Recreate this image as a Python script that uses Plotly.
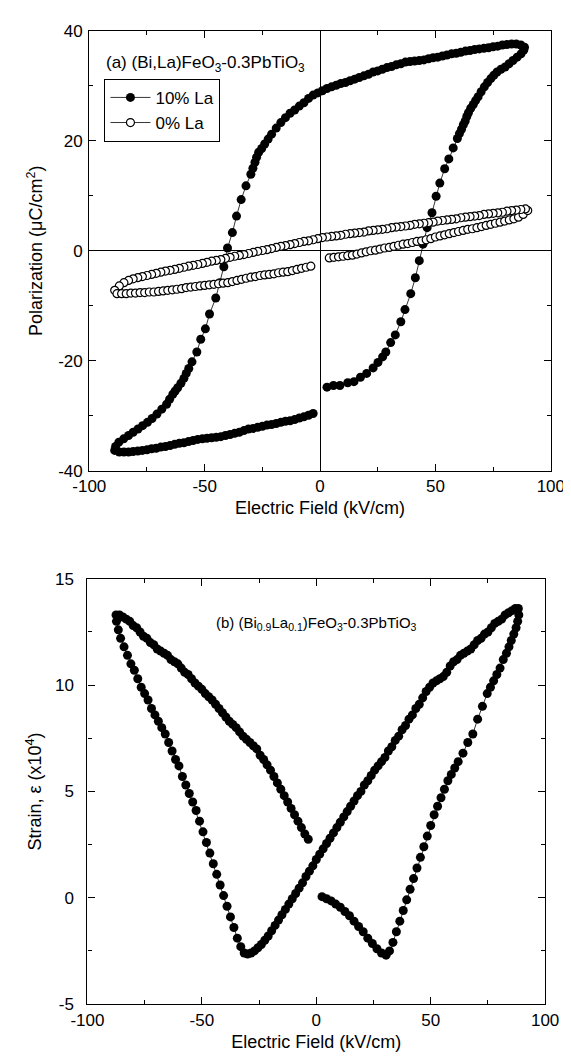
import plotly.graph_objects as go

# ---------------- tick labels ----------------
field_ticks = [-100, -50, 0, 50, 100]
field_labels = ["-100", "-50", "0", "50", "100"]
pol_ticks = [-40, -20, 0, 20, 40]
pol_labels = ["-40", "-20", "0", "20", "40"]
strain_ticks = [-5, 0, 5, 10, 15]
strain_labels = ["-5", "0", "5", "10", "15"]

# ---------------- (a) Polarization loops ----------------
# 10% La (filled circles), path order
la10_E = [3.0, 5.8, 8.6, 12.0, 14.7, 17.5, 20.2, 23.0, 25.1, 27.1, 28.5, 30.6, 32.6, 35.0, 36.8, 39.3,
          41.3, 43.0, 44.6, 46.4, 48.5, 50.3, 51.9, 54.0, 55.8, 57.7, 59.5, 60.4, 61.3, 62.1, 62.9, 63.6,
          64.3, 65.3, 66.4, 67.4, 68.5, 69.8, 71.2, 72.6, 74.0, 75.3, 76.7, 78.4, 80.2, 81.9, 83.6, 85.4,
          87.1, 88.3, 88.6,
          87, 85, 83, 81, 79, 77, 75, 73, 71, 69, 67, 65, 63, 61, 59, 57, 55, 53, 51, 49, 47, 45, 43, 41,
          39, 37, 35, 33, 31, 29, 27, 25, 23, 21, 19, 17, 15, 13, 11, 9, 7, 5, 3, 1, -1, -3, -5, -7, -9,
          -11, -13, -15, -17, -19, -21, -22.5, -24, -25.3, -26.6, -27.5, -28.2, -29.1, -30.0, -32.1, -34.2,
          -36.2, -38.0, -40.1, -41.7, -43.5, -45.2, -47.9, -49.7, -51.7, -53.4, -55.5, -56.9, -58.0, -59.0,
          -60.3, -61.7, -62.8, -63.8, -65.2, -66.5, -68.6, -70.7, -72.8, -74.8, -76.9, -78.9, -81.0, -83.0,
          -85.1, -87.2, -88.6, -89.0,
          -87, -85, -83, -81, -79, -77, -75, -73, -71, -69, -67, -65, -63, -61, -59, -57, -55, -53, -51,
          -49, -47, -45, -43, -41, -39, -37, -35, -33, -31, -29, -27, -25, -23, -21, -19, -17, -15, -13,
          -11, -9, -7, -5, -3]
la10_P = [-24.8, -24.5, -24.5, -24.0, -23.8, -23.0, -22.3, -21.3, -20.3, -19.3, -18.4, -16.7, -15.3, -12.9,
          -10.7, -7.8, -4.9, -1.8, 1.2, 4.2, 6.9, 9.9, 12.3, 14.9, 16.7, 18.7, 20.4, 21.3, 22.1, 22.9, 23.6,
          24.4, 25.1, 25.9, 26.6, 27.3, 28.0, 28.9, 29.8, 30.6, 31.3, 31.9, 32.5, 33.0, 33.4, 34.0, 34.6,
          35.2, 35.8, 36.5, 37.0,
          37.4, 37.6, 37.6, 37.5, 37.4, 37.2, 37.1, 36.9, 36.8, 36.7, 36.6, 36.4, 36.3, 36.1, 35.9, 35.8,
          35.6, 35.4, 35.2, 35.1, 34.9, 34.7, 34.6, 34.5, 34.4, 34.3, 34.0, 33.8, 33.5, 33.3, 33.0, 32.7,
          32.5, 32.1, 31.8, 31.5, 31.2, 30.9, 30.6, 30.4, 30.1, 29.8, 29.5, 29.1, 28.7, 28.3, 27.7, 26.9,
          26.3, 25.6, 25.0, 24.2, 23.3, 22.3, 21.2, 20.3, 19.4, 18.6, 17.9, 17.0, 16.1, 15.0, 13.9, 11.8,
          9.3, 6.3, 3.3, 0.5, -2.9, -5.8, -8.6, -11.5, -14.2, -16.1, -18.4, -20.2, -21.4, -22.3, -23.2,
          -24.1, -24.9, -25.5, -26.1, -27.0, -27.9, -28.8, -29.7, -30.5, -31.2, -31.8, -32.4, -33.0, -33.6,
          -34.2, -34.8, -35.6, -36.3,
          -36.6, -36.6, -36.6, -36.5, -36.4, -36.3, -36.2, -36.0, -35.9, -35.7, -35.6, -35.4, -35.2, -35.0,
          -34.9, -34.7, -34.5, -34.3, -34.2, -34.1, -34.0, -33.9, -33.8, -33.6, -33.4, -33.2, -33.0, -32.7,
          -32.4, -32.3, -32.1, -31.9, -31.7, -31.6, -31.4, -31.2, -31.0, -30.9, -30.7, -30.4, -30.2, -29.9,
          -29.6]

# 0% La (open circles), path order
la0_E = [4, 6, 8, 10, 12, 14, 16, 18, 20, 22, 24, 26, 28, 30, 32, 34, 36, 38, 40, 42, 44, 46, 48, 50, 52,
         54, 56, 58, 60, 62, 64, 66, 68, 70, 72, 74, 76, 78, 80, 82, 84, 86, 88, 90,
         89, 87, 85, 83, 81, 79, 77, 75, 73, 71, 69, 67, 65, 63, 61, 59, 57, 55, 53, 51, 49, 47, 45, 43,
         41, 39, 37, 35, 33, 31, 29, 27, 25, 23, 21, 19, 17, 15, 13, 11, 9, 7, 5, 3, 1, -1, -3, -5, -7,
         -9, -11, -13, -15, -17, -19, -21, -23, -25, -27, -29, -31, -33, -35, -37, -39, -41, -43, -45,
         -47, -49, -51, -53, -55, -57, -59, -61, -63, -65, -67, -69, -71, -73, -75, -77, -79, -81, -83,
         -85, -87, -89,
         -88, -86, -84, -82, -80, -78, -76, -74, -72, -70, -68, -66, -64, -62, -60, -58, -56, -54, -52,
         -50, -48, -46, -44, -42, -40, -38, -36, -34, -32, -30, -28, -26, -24, -22, -20, -18, -16, -14,
         -12, -10, -8, -6, -4]
la0_P = [-1.3, -1.2, -1.1, -1.0, -0.9, -0.8, -0.6, -0.4, -0.2, 0.0, 0.1, 0.3, 0.5, 0.6, 0.8, 1.0, 1.2, 1.3,
         1.5, 1.7, 1.8, 2.0, 2.2, 2.5, 2.7, 2.9, 3.1, 3.3, 3.5, 3.7, 3.9, 4.0, 4.2, 4.4, 4.6, 4.8, 5.0,
         5.2, 5.4, 5.6, 5.8, 6.1, 6.6, 7.3,
         7.6, 7.5, 7.4, 7.3, 7.2, 7.0, 6.9, 6.8, 6.7, 6.6, 6.4, 6.3, 6.2, 6.1, 6.0, 5.8, 5.7, 5.6, 5.5,
         5.4, 5.2, 5.1, 5.0, 4.9, 4.8, 4.6, 4.5, 4.4, 4.3, 4.2, 4.0, 3.9, 3.8, 3.7, 3.6, 3.4, 3.3, 3.2,
         3.1, 3.0, 2.8, 2.7, 2.6, 2.5, 2.4, 2.2, 2.0, 1.8, 1.7, 1.5, 1.3, 1.1, 0.95, 0.8, 0.6, 0.4, 0.2,
         0.05, -0.1, -0.3, -0.5, -0.7, -0.85, -1.0, -1.2, -1.4, -1.6, -1.75, -1.9, -2.1, -2.3, -2.5,
         -2.65, -2.8, -3.0, -3.2, -3.4, -3.55, -3.7, -3.9, -4.1, -4.3, -4.5, -4.7, -4.9, -5.1, -5.4,
         -5.8, -6.4, -7.2,
         -7.8, -7.8, -7.8, -7.7, -7.7, -7.6, -7.6, -7.5, -7.5, -7.4, -7.3, -7.2, -7.1, -7.0, -6.9, -6.7,
         -6.6, -6.5, -6.4, -6.3, -6.2, -6.1, -6.0, -5.9, -5.8, -5.6, -5.4, -5.2, -5.0, -4.8, -4.7, -4.5,
         -4.4, -4.3, -4.2, -4.0, -3.9, -3.8, -3.6, -3.4, -3.2, -3.0, -2.8]

# ---------------- (b) Strain butterfly loop ----------------
strain_E = [2.5, 4.5, 6.5, 8.5, 10.5, 12.5, 14.5, 16.5, 18.5, 20.5, 22.5, 24.5, 26.5, 28.5, 30.5,
            32.0, 33.5, 35.0, 36.5, 38.0, 39.5, 41.0, 42.5, 44.0, 45.5, 47.0, 48.5, 50.0, 51.5, 53.0, 54.5,
            56.0, 57.5, 59.0, 60.5, 62.0, 64.1, 66.2, 68.4, 70.5, 72.6, 74.7, 76.1, 77.5, 78.9, 80.3, 81.7,
            83.1, 84.2, 85.2, 86.3, 87.3, 88.0, 88.5, 88.3,
            87.0, 85.5, 84.0, 82.5, 81.0, 79.5, 78.0, 76.5, 75.0, 73.5, 72.0, 70.5, 69.0, 67.5, 66.0, 64.5,
            63.0, 61.5, 60.0, 58.5, 57.0, 55.5, 54.0, 52.5, 51.0, 49.5, 48.0, 46.5, 45.0, 43.5, 42.0, 40.5,
            39.0, 37.5, 36.0, 34.5, 33.0, 31.5, 30.0, 28.5, 27.0, 25.5, 24.0, 22.5, 21.0, 19.5, 18.0, 16.5,
            15.0, 13.5, 12.0, 10.5, 9.0, 7.5, 6.0, 4.5, 3.0, 1.5, 0.0, -1.5, -3.0, -4.5, -6.0, -7.5, -9.0,
            -10.5, -12.0, -13.5, -15.0, -16.5, -18.0, -19.5, -21.0, -22.5, -24.0, -25.5, -27.0, -28.5, -30.0,
            -31.5,
            -33.0, -34.5, -36.0, -37.5, -39.0, -40.5, -42.0, -43.5, -45.0, -46.5, -48.0, -49.5, -51.0, -52.5,
            -54.0, -55.5, -57.0, -58.5, -60.0, -61.5, -63.0, -64.5, -66.0, -67.5, -69.0, -70.5, -72.0, -73.5,
            -75.0, -76.5, -78.0, -79.5, -81.0, -82.5, -84.0, -85.5, -86.5, -87.3, -87.5,
            -86.0, -84.5, -83.0, -81.5, -80.0, -78.5, -77.0, -75.5, -74.0, -72.5, -71.0, -69.5, -68.0, -66.5,
            -65.0, -63.5, -62.0, -60.5, -59.0, -57.5, -56.0, -54.5, -53.0, -51.5, -50.0, -48.5, -47.0, -45.5,
            -44.0, -42.5, -41.0, -39.5, -38.0, -36.5, -35.0, -33.5, -32.0, -30.5, -29.0, -27.5, -26.0, -24.5,
            -23.0, -21.5, -20.0, -18.5, -17.0, -15.5, -14.0, -12.5, -11.0, -9.5, -8.0, -6.5, -5.0, -3.5]
strain_S = [0.05, -0.05, -0.15, -0.3, -0.45, -0.65, -0.85, -1.1, -1.35, -1.6, -1.9, -2.15, -2.4, -2.6, -2.7,
            -2.5, -2.1, -1.6, -1.1, -0.6, -0.1, 0.4, 0.9, 1.4, 1.9, 2.4, 2.9, 3.4, 3.9, 4.3, 4.7,
            5.1, 5.5, 5.8, 6.1, 6.4, 6.8, 7.3, 7.7, 8.4, 9.0, 9.6, 9.9, 10.2, 10.5, 10.8, 11.2,
            11.5, 11.8, 12.1, 12.4, 12.7, 13.0, 13.3, 13.6,
            13.6, 13.5, 13.4, 13.3, 13.1, 13.0, 12.9, 12.7, 12.5, 12.4, 12.2, 12.1, 11.9, 11.7, 11.6, 11.5,
            11.4, 11.2, 11.1, 10.9, 10.6, 10.4, 10.3, 10.2, 10.1, 9.9, 9.7, 9.4, 9.1, 8.9, 8.6, 8.4,
            8.1, 7.9, 7.6, 7.4, 7.1, 6.9, 6.6, 6.4, 6.2, 6.0, 5.75, 5.5, 5.3, 5.0, 4.8, 4.55,
            4.3, 4.05, 3.8, 3.55, 3.3, 3.05, 2.8, 2.55, 2.3, 2.05, 1.8, 1.5, 1.25, 1.0, 0.7, 0.45, 0.2,
            -0.05, -0.3, -0.55, -0.8, -1.05, -1.3, -1.55, -1.8, -2.0, -2.2, -2.35, -2.5, -2.6, -2.65,
            -2.6,
            -2.3, -1.9, -1.4, -0.9, -0.4, 0.1, 0.6, 1.1, 1.6, 2.1, 2.6, 3.1, 3.6, 4.1,
            4.5, 4.9, 5.3, 5.7, 6.2, 6.5, 6.9, 7.3, 7.7, 8.0, 8.3, 8.6, 8.9, 9.3,
            9.6, 9.9, 10.3, 10.7, 11.0, 11.4, 11.8, 12.2, 12.6, 13.0, 13.3,
            13.3, 13.2, 13.1, 13.0, 12.8, 12.7, 12.5, 12.3, 12.2, 12.0, 11.9, 11.7, 11.6, 11.5,
            11.4, 11.2, 11.1, 11.0, 10.8, 10.6, 10.5, 10.3, 10.1, 9.95, 9.8, 9.6, 9.45, 9.3,
            9.1, 8.9, 8.7, 8.5, 8.3, 8.15, 8.0, 7.8, 7.6, 7.45, 7.3, 7.15, 7.0, 6.7,
            6.5, 6.25, 6.0, 5.7, 5.4, 5.1, 4.8, 4.5, 4.2, 3.9, 3.6, 3.3, 3.0, 2.75]

FONT = "Arial, Liberation Sans, sans-serif"

fig = go.Figure()
fig.add_trace(go.Scatter(x=la10_E, y=la10_P, mode="lines+markers", name="10% La",
                         line=dict(color="black", width=0.8),
                         marker=dict(symbol="circle", size=9, color="black"),
                         xaxis="x", yaxis="y"))
fig.add_trace(go.Scatter(x=la0_E, y=la0_P, mode="lines+markers", name="0% La",
                         line=dict(color="black", width=0.8),
                         marker=dict(symbol="circle", size=8, color="white",
                                     line=dict(color="black", width=1.2)),
                         xaxis="x", yaxis="y"))
fig.add_trace(go.Scatter(x=strain_E, y=strain_S, mode="lines+markers", showlegend=False,
                         line=dict(color="black", width=0.8),
                         marker=dict(symbol="circle", size=9, color="black"),
                         xaxis="x2", yaxis="y2"))

W, H = 571, 1064
axis_common = dict(showgrid=False, showline=True, linecolor="black", linewidth=1.3,
                   mirror="ticks", ticks="inside", ticklen=7, tickwidth=1.2, tickcolor="black",
                   tickfont=dict(family=FONT, size=17, color="black"))

fig.update_layout(
    width=W, height=H, margin=dict(l=0, r=0, t=0, b=0),
    paper_bgcolor="white", plot_bgcolor="white",
    font=dict(family=FONT, size=17, color="black"),
    xaxis=dict(domain=[68 / W, 556 / W], anchor="y", range=[-100, 100],
               tickmode="array", tickvals=field_ticks, ticktext=field_labels,
               zeroline=True, zerolinecolor="black", zerolinewidth=1.3,
               minor=dict(dtick=25, ticks="inside", ticklen=4, tickcolor="black"),
               title=dict(text="Electric Field (kV/cm)", font=dict(family=FONT, size=18), standoff=6),
               **axis_common),
    yaxis=dict(domain=[1 - 462 / H, 1 - 14 / H], anchor="x", range=[-40, 40],
               tickmode="array", tickvals=pol_ticks, ticktext=pol_labels,
               zeroline=True, zerolinecolor="black", zerolinewidth=1.3,
               minor=dict(dtick=10, ticks="inside", ticklen=4, tickcolor="black"),
               ticklabelstandoff=2,
               title=dict(text="Polarization (μC/cm<sup>2</sup>)", font=dict(family=FONT, size=18), standoff=10),
               **axis_common),
    xaxis2=dict(domain=[66 / W, 550 / W], anchor="y2", range=[-100, 100],
                tickmode="array", tickvals=field_ticks, ticktext=field_labels, zeroline=False,
                minor=dict(dtick=25, ticks="inside", ticklen=4, tickcolor="black"),
                title=dict(text="Electric Field (kV/cm)", font=dict(family=FONT, size=18), standoff=6),
                **axis_common),
    yaxis2=dict(domain=[1 - 1005 / H, 1 - 572 / H], anchor="x2", range=[-5, 15],
                tickmode="array", tickvals=strain_ticks, ticktext=strain_labels, zeroline=False,
                minor=dict(dtick=2.5, ticks="inside", ticklen=4, tickcolor="black"),
                ticklabelstandoff=9,
                title=dict(text="Strain, ε (x10<sup>4</sup>)", font=dict(family=FONT, size=18), standoff=8),
                **axis_common),
    legend=dict(x=84 / W, y=1 - 63 / H, xanchor="left", yanchor="top",
                bordercolor="black", borderwidth=1, bgcolor="white",
                font=dict(family=FONT, size=17), tracegroupgap=0, itemwidth=40),
    annotations=[
        dict(text="(a) (Bi,La)FeO<sub>3</sub>-0.3PbTiO<sub>3</sub>", xref="paper", yref="paper",
             x=84 / W, y=1 - 48 / H, xanchor="left", yanchor="middle", showarrow=False,
             font=dict(family=FONT, size=17)),
        dict(text="(b) (Bi<sub>0.9</sub>La<sub>0.1</sub>)FeO<sub>3</sub>-0.3PbTiO<sub>3</sub>",
             xref="x2", yref="y2", x=0, y=12.9, xanchor="center", yanchor="middle", showarrow=False,
             font=dict(family=FONT, size=15)),
    ],
)

fig.write_html("out.html")
